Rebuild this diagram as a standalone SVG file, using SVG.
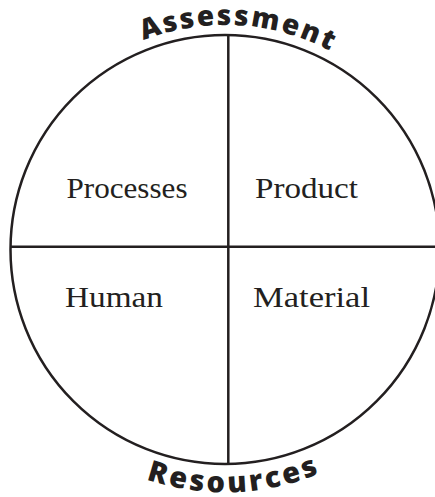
<svg xmlns="http://www.w3.org/2000/svg" width="435" height="497" viewBox="0 0 435 497">
  <style>
    .ln { stroke: #231f20; stroke-width: 2.5; fill: none; }
    .lbl { font-family: "Liberation Serif", "Times New Roman", serif; font-size: 30px; fill: #231f20; }
    .arc { font-family: "Open Sans", "Liberation Sans", sans-serif; font-weight: 800; fill: #231f20; }
  </style>
  <defs>
    <path id="topArc" d="M 30.1 137.5 A 225 225 0 0 1 419.9 137.5"/>
    <path id="botArc" d="M 14.6 371 A 243 243 0 0 0 435.4 371"/>
  </defs>
  <rect width="435" height="497" fill="#ffffff"/>
  <g id="wheel">
    <circle class="ln" cx="225" cy="249.5" r="214.5"/>
  </g>
  <g id="connectors">
    <line class="ln" x1="11" y1="246.7" x2="435" y2="246.7"/>
    <line class="ln" x1="228.3" y1="35" x2="228.3" y2="464"/>
  </g>
  <g id="assessment">
    <text class="arc" font-size="28" letter-spacing="2.2"><textPath href="#topArc" startOffset="152">Assessment</textPath></text>
  </g>
  <g id="resources">
    <text class="arc" font-size="29" letter-spacing="3"><textPath href="#botArc" startOffset="174">Resources</textPath></text>
  </g>
  <g id="processes">
    <text class="lbl" x="66.5" y="198" textLength="121" lengthAdjust="spacingAndGlyphs">Processes</text>
  </g>
  <g id="product">
    <text class="lbl" x="255" y="198" textLength="103" lengthAdjust="spacingAndGlyphs">Product</text>
  </g>
  <g id="human">
    <text class="lbl" x="65" y="307" textLength="98" lengthAdjust="spacingAndGlyphs">Human</text>
  </g>
  <g id="material">
    <text class="lbl" x="253" y="307" textLength="117" lengthAdjust="spacingAndGlyphs">Material</text>
  </g>
</svg>
